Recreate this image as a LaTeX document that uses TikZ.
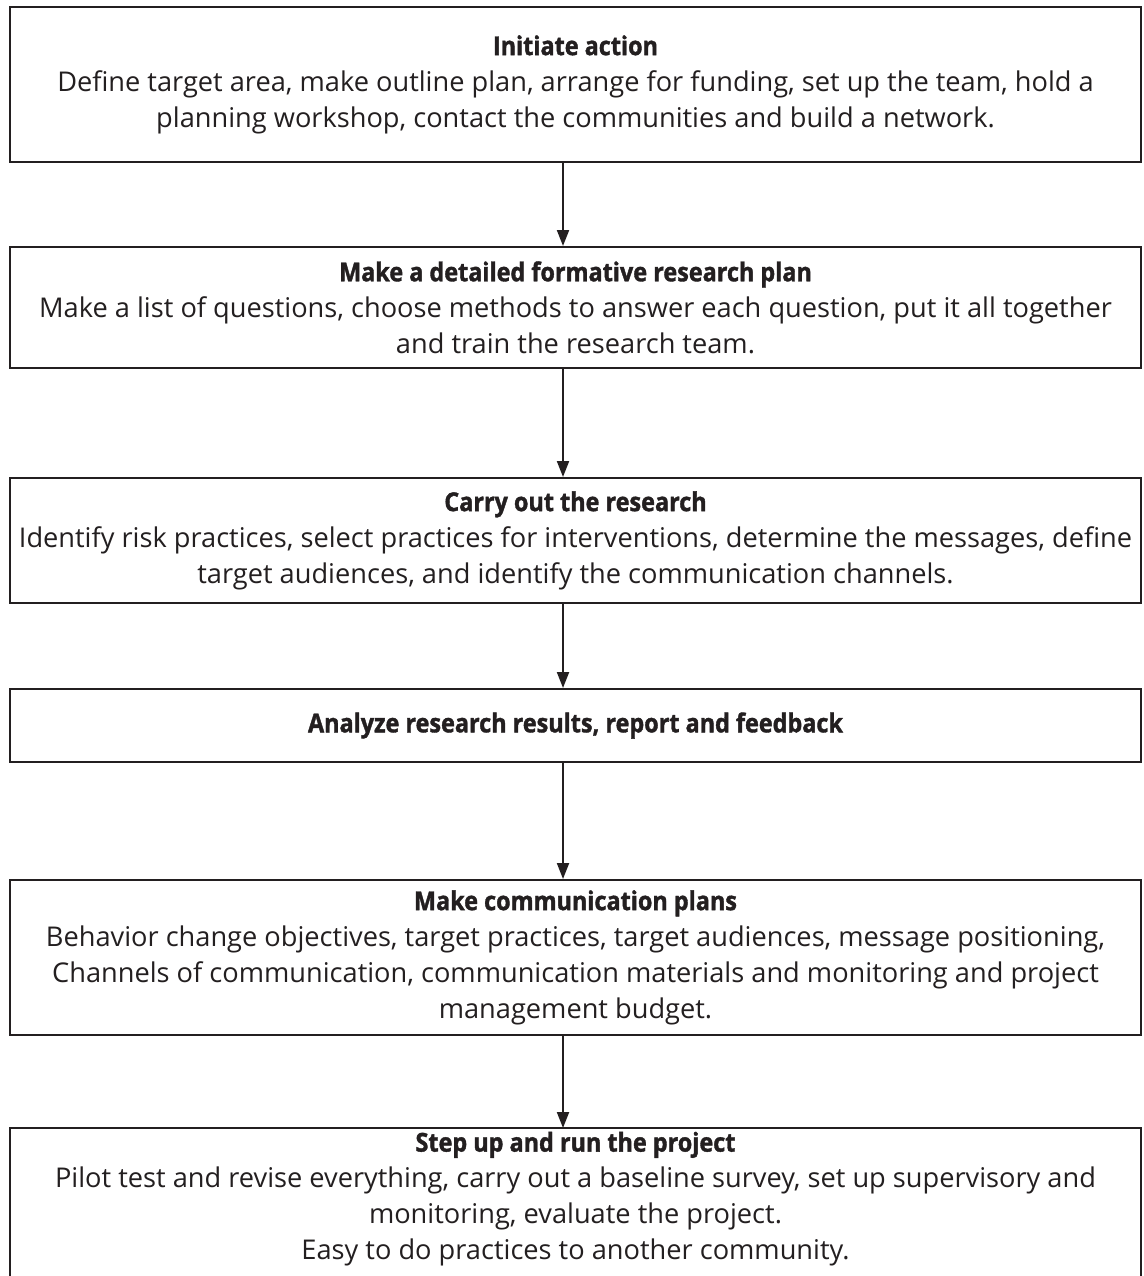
\documentclass[tikz,border=0pt]{standalone}
\usepackage{fontspec}
\setmainfont{Open Sans}
\newfontfamily\titlefont[FakeStretch=0.9,FakeBold=1.4]{Open Sans}
\usetikzlibrary{arrows.meta}
\definecolor{ink}{HTML}{231F20}
\newcommand{\ttl}[1]{{\titlefont\bfseries\fontsize{26}{36}\selectfont #1}}
\begin{document}
\begin{tikzpicture}[x=1pt,y=-1pt,
  box/.style={draw=ink, line width=2pt, minimum width=1131pt, inner sep=0pt, align=center, text=ink,
    font=\fontsize{27.2}{36}\selectfont},
  openbox/.style={box, draw=none, outer sep=0pt},
  edge/.style={draw=ink, line width=2pt},
  flow/.style={draw=ink, line width=2pt, -{Triangle[length=16pt,width=12pt]}}]
\useasboundingbox[fill=white] (0,0) rectangle (1143,1276);
\coordinate (ax) at (563,0);
\node[box, minimum height=155pt] (b1) at (575.5,84.5) {\ttl{Initiate action}\\
  Define target area, make outline plan, arrange for funding, set up the team, hold a\\
  planning workshop, contact the communities and build a network.};
\node[box, minimum height=121pt] (b2) at (575.5,307.5) {\ttl{Make a detailed formative research plan}\\
  Make a list of questions, choose methods to answer each question, put it all together\\
  and train the research team.};
\node[box, minimum height=125pt] (b3) at (575.5,540.5) {\ttl{Carry out the research}\\
  Identify risk practices, select practices for interventions, determine the messages, define\\
  target audiences, and identify the communication channels.};
\node[box, minimum height=73pt] (b4) at (575.5,725.5) {\ttl{Analyze research results, report and feedback}};
\node[box, minimum height=155pt] (b5) at (575.5,957.5) {\ttl{Make communication plans}\\
  Behavior change objectives, target practices, target audiences, message positioning,\\
  Channels of communication, communication materials and monitoring and project\\
  management budget.};
\node[openbox, minimum height=142pt] (b6) at (575.5,1199) {\ttl{Step up and run the project}\\
  Pilot test and revise everything, carry out a baseline survey, set up supervisory and\\
  monitoring, evaluate the project.\\
  Easy to do practices to another community.};
\draw[edge] ([yshift=-8pt]b6.south west) -- (b6.north west) -- (b6.north east) -- ([yshift=-8pt]b6.south east);
\draw[flow] (b1.south -| ax) -- (b2.north -| ax);
\draw[flow] (b2.south -| ax) -- (b3.north -| ax);
\draw[flow] (b3.south -| ax) -- (b4.north -| ax);
\draw[flow] (b4.south -| ax) -- (b5.north -| ax);
\draw[flow] (b5.south -| ax) -- (b6.north -| ax);
\end{tikzpicture}
\end{document}
